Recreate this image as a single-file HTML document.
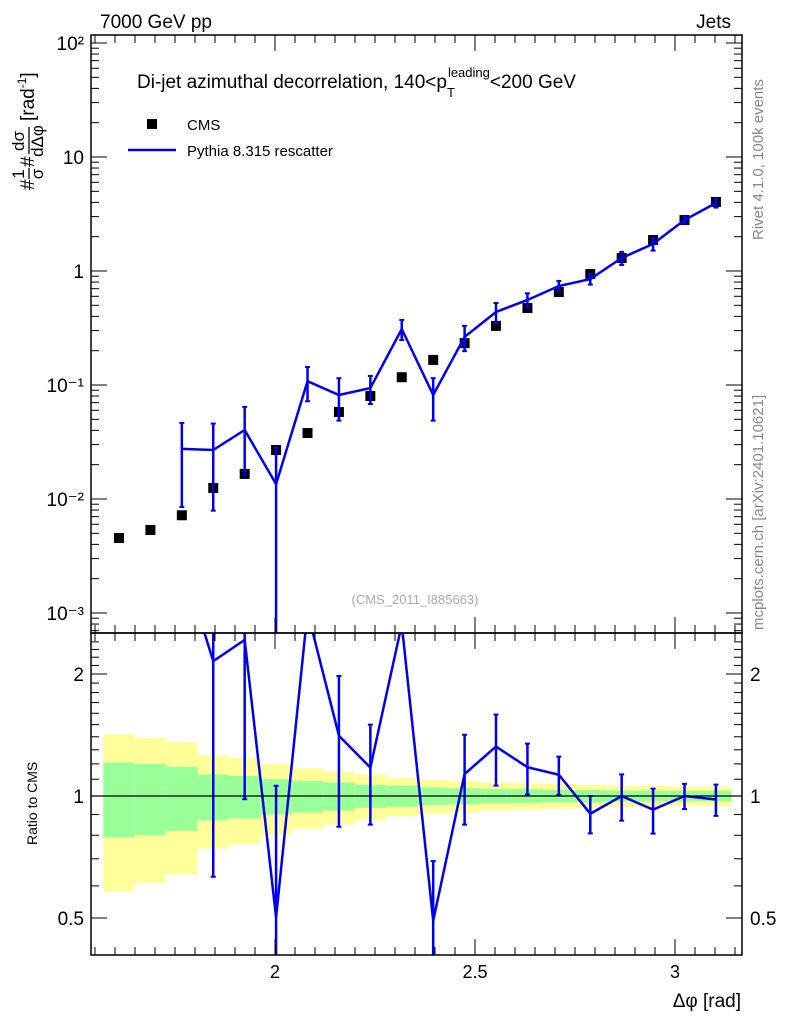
<!DOCTYPE html>
<html><head><meta charset="utf-8"><style>
body{margin:0;background:#fff;}
svg{display:block;font-family:"Liberation Sans",sans-serif;}
</style></head><body>
<svg id="c" width="786" height="1024" viewBox="0 0 786 1024" xmlns="http://www.w3.org/2000/svg">
<g id="bands"></g><g id="marks"></g><g id="axes"></g>
<text x="100" y="28" font-size="19">7000 GeV pp</text>
<text x="731" y="28" font-size="19" text-anchor="end">Jets</text>
<text x="137" y="88" font-size="19">Di-jet azimuthal decorrelation, 140&lt;p<tspan font-size="13" dy="9">T</tspan><tspan font-size="13" dy="-20" dx="-7">leading</tspan><tspan dy="11">&lt;200 GeV</tspan></text>
<rect x="147" y="119" width="10" height="10" fill="#000"/>
<text x="187" y="130" font-size="15">CMS</text>
<line x1="128" y1="150" x2="176" y2="150" stroke="#0000ee" stroke-width="2.5"/>
<text x="187" y="156" font-size="15">Pythia 8.315 rescatter</text>
<text x="415" y="604" font-size="13" fill="#aaa" text-anchor="middle">(CMS_2011_I885663)</text>
<text transform="translate(763,240) rotate(-90)" font-size="15" fill="#888">Rivet 4.1.0,  100k events</text>
<text transform="translate(763,630) rotate(-90)" font-size="15" fill="#888">mcplots.cern.ch [arXiv:2401.10621]</text>
<g transform="translate(30,190) rotate(-90)">
<text x="0" y="4" font-size="19">#</text>
<text x="16" y="-6" font-size="17" text-anchor="middle">1</text>
<line x1="11" x2="22" y1="-1" y2="-1" stroke="#000" stroke-width="1.3"/>
<text x="16" y="13" font-size="17" text-anchor="middle">σ</text>
<text x="23" y="4" font-size="19">#</text>
<text x="49" y="-6" font-size="17" text-anchor="middle">dσ</text>
<line x1="36" x2="63" y1="-1" y2="-1" stroke="#000" stroke-width="1.3"/>
<text x="49" y="13" font-size="17" text-anchor="middle">dΔφ</text>
<text x="69" y="4" font-size="19">[rad<tspan font-size="12" dy="-8">-1</tspan><tspan dy="8">]</tspan></text>
</g>
<text transform="translate(37,845) rotate(-90)" font-size="14">Ratio to CMS</text>
<text x="741" y="1007" font-size="19" text-anchor="end">Δφ [rad]</text>
</svg>
<script>
const binCenters=[1.6100,1.6885,1.7671,1.8456,1.9242,2.0027,2.0813,2.1598,2.2384,2.3169,2.3955,2.4740,2.5525,2.6311,2.7096,2.7882,2.8667,2.9452,3.0238,3.1023];
const cmsValues=[0.00455,0.00535,0.0072,0.0125,0.0166,0.0269,0.0379,0.058,0.080,0.117,0.166,0.233,0.33,0.473,0.654,0.94,1.30,1.87,2.80,4.03];
const cmsTotRel=[0.42,0.39,0.36,0.26,0.24,0.20,0.17,0.15,0.13,0.11,0.095,0.09,0.08,0.075,0.07,0.065,0.06,0.06,0.055,0.055];
const cmsStatRel=[0.21,0.20,0.18,0.13,0.12,0.10,0.09,0.08,0.065,0.06,0.05,0.045,0.04,0.04,0.035,0.035,0.03,0.03,0.03,0.03];
const pyValues=[null,null,0.0275,0.0269,0.0403,0.0135,0.108,0.0817,0.094,0.31,0.0817,0.264,0.437,0.557,0.738,0.85,1.30,1.73,2.80,3.95];
const pyErrors=[null,null,0.019,0.019,0.024,0.015,0.036,0.033,0.026,0.062,0.033,0.066,0.087,0.08,0.08,0.09,0.17,0.22,0.2,0.35];
const xTicks=[2,2.5,3];
const yTicks=[0.001,0.01,0.1,1,10,100];
const yTickLabels=["10⁻³","10⁻²","10⁻¹","1","10","10²"];
const rTicks=[0.5,1,2];
const rTickLabels=["0.5","1","2"];

const L=91,R=742,T=35,B=633,RB=955;
const binW=0.0785;
const X=v=>275+(v-2)*400;
const Y=v=>271-Math.log10(v)*114;
const RY=r=>796-Math.log2(r)*122;
const NS="http://www.w3.org/2000/svg";
function mk(p,tag,a){const e=document.createElementNS(NS,tag);for(const k in a)e.setAttribute(k,a[k]);document.getElementById(p).appendChild(e);return e;}
const cl=(v,a,b)=>Math.max(a,Math.min(b,v));

binCenters.forEach((c,i)=>{
  const x0=X(c-binW/2),x1=X(c+binW/2);
  let e=mk('bands','rect',{x:x0,y:RY(1+cmsTotRel[i]),width:x1-x0,height:RY(1-cmsTotRel[i])-RY(1+cmsTotRel[i]),fill:'#ffff99'});
  
  
  e=mk('bands','rect',{x:x0,y:RY(1+cmsStatRel[i]),width:x1-x0,height:RY(1-cmsStatRel[i])-RY(1+cmsStatRel[i]),fill:'#99ff99'});
  
  
});
binCenters.forEach((c,i)=>{
  const e=mk('marks','rect',{x:X(c)-5,y:Y(cmsValues[i])-5,width:10,height:10,fill:'#000'});
  
  
});
let pts=[],rpts=[];
binCenters.forEach((c,i)=>{
  const v=pyValues[i];if(v==null)return;
  pts.push(X(c)+','+Y(v));
  rpts.push(X(c)+','+RY(v/cmsValues[i]));
  const er=pyErrors[i];
  const lo=v-er>0?Y(v-er):B;
  let e=mk('marks','line',{x1:X(c),x2:X(c),y1:Y(v+er),y2:cl(lo,T,B),stroke:'#0000ee','stroke-width':2.5});
  
  
  mk('marks','line',{x1:X(c)-2.5,x2:X(c)+2.5,y1:Y(v+er),y2:Y(v+er),stroke:'#0000ee','stroke-width':2});
  if(v-er>0)mk('marks','line',{x1:X(c)-2.5,x2:X(c)+2.5,y1:lo,y2:lo,stroke:'#0000ee','stroke-width':2});
  const r=v/cmsValues[i],re=er/cmsValues[i];
  const ry=RY(r);
  if(ry>=B&&ry<=RB){
    const rt=RY(r+re),rb=r-re>0?RY(r-re):RB;
    e=mk('marks','line',{x1:X(c),x2:X(c),y1:cl(rt,B,RB),y2:cl(rb,B,RB),stroke:'#0000ee','stroke-width':2.5});
    
    
    [rt,rb].forEach(y=>{if(y>B&&y<RB)mk('marks','line',{x1:X(c)-2.5,x2:X(c)+2.5,y1:y,y2:y,stroke:'#0000ee','stroke-width':2});});
  }
});
let e=mk('marks','polyline',{points:pts.join(' '),fill:'none',stroke:'#0000ee','stroke-width':2.5});


const cp=mk('marks','clipPath',{id:'rc'});
const cr=document.createElementNS(NS,'rect');cr.setAttribute('x',L);cr.setAttribute('y',B);cr.setAttribute('width',R-L);cr.setAttribute('height',RB-B);cp.appendChild(cr);
e=mk('marks','polyline',{points:rpts.join(' '),fill:'none',stroke:'#0000ee','stroke-width':2.5,'clip-path':'url(#rc)'});


e=mk('marks','line',{x1:L,x2:R,y1:RY(1),y2:RY(1),stroke:'#000','stroke-width':1.2});



e=mk('axes','rect',{x:L,y:T,width:R-L,height:B-T,fill:'none',stroke:'#000','stroke-width':1.5});


e=mk('axes','rect',{x:L,y:B,width:R-L,height:RB-B,fill:'none',stroke:'#000','stroke-width':1.5});


for(let v=1.55;v<3.17;v+=0.05){
  const x=X(Math.round(v*100)/100);if(x<L||x>R)continue;
  const major=Math.abs(Math.round(v*100)%50)<1;const len=major?16:8;
  [[T,T+len],[B,B-len],[B,B+len],[RB,RB-len]].forEach(([a,b])=>mk('axes','line',{x1:x,x2:x,y1:a,y2:b,stroke:'#000','stroke-width':1}));
}
xTicks.forEach(v=>{const t=mk('axes','text',{x:X(v),y:978,'font-size':18,'text-anchor':'middle'});t.textContent=String(v);

});
for(let d=-4;d<=2;d++)for(let m=1;m<10;m++){
  const v=m*Math.pow(10,d);const y=Y(v);if(y<T||y>B)continue;const len=m==1?16:8;
  mk('axes','line',{x1:L,x2:L+len,y1:y,y2:y,stroke:'#000'});mk('axes','line',{x1:R,x2:R-len,y1:y,y2:y,stroke:'#000'});
}
yTicks.forEach((v,i)=>{const t=mk('axes','text',{x:L-7,y:Y(v)+7,'font-size':19,'text-anchor':'end'});t.textContent=yTickLabels[i];

});
for(let v=0.4;v<=2.5;v+=0.1){const r=Math.round(v*10)/10;const y=RY(r);if(y<B||y>RB)continue;
  const len=(r==0.5||r==1||r==2)?16:8;
  mk('axes','line',{x1:L,x2:L+len,y1:y,y2:y,stroke:'#000'});mk('axes','line',{x1:R,x2:R-len,y1:y,y2:y,stroke:'#000'});}
rTicks.forEach((v,i)=>{let t=mk('axes','text',{x:L-7,y:RY(v)+7,'font-size':19,'text-anchor':'end'});t.textContent=rTickLabels[i];


t=mk('axes','text',{x:R+8,y:RY(v)+7,'font-size':19});t.textContent=rTickLabels[i];

});
</script>
</body></html>
